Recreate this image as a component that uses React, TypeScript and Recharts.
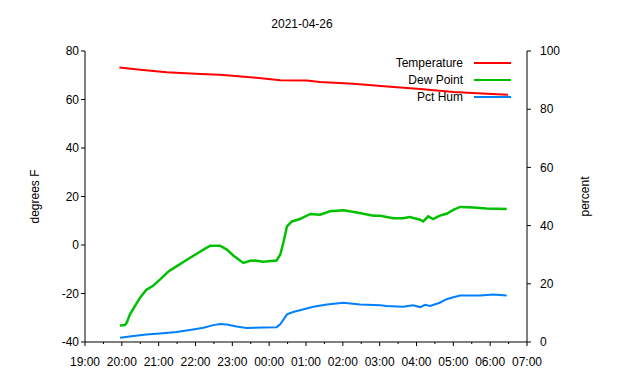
import React from "react"
import { LineChart, Line, XAxis, YAxis, Legend } from "recharts"

// times are clock readings, the night runs past midnight
const tempTimes = ["19:56", "20:30", "21:13", "22:08", "22:40", "23:34", "00:18", "01:01", "01:23", "02:17", "03:12", "04:06", "05:00", "05:55", "06:29"]
const tempValues = [73.2, 72.3, 71.2, 70.5, 70.2, 69.1, 67.9, 67.8, 67.2, 66.5, 65.4, 64.3, 63.1, 62.4, 62.0]

const dewTimes = ["19:57", "20:05", "20:08", "20:13", "20:21", "20:30", "20:40", "20:51", "21:02", "21:16", "21:29", "21:46", "22:02", "22:15", "22:24", "22:40", "22:51", "23:02", "23:18", "23:29", "23:37", "23:50", "00:12", "00:18", "00:23", "00:29", "00:37", "00:50", "01:07", "01:23", "01:39", "02:01", "02:23", "02:50", "03:01", "03:22", "03:38", "03:49", "04:06", "04:11", "04:19", "04:27", "04:38", "04:49", "05:00", "05:11", "05:33", "05:54", "06:27"]
const dewValues = [-33.2, -33.0, -32.0, -28.7, -25.3, -21.6, -18.4, -16.8, -14.3, -10.9, -8.8, -6.1, -3.6, -1.6, -0.3, -0.3, -1.9, -4.4, -7.4, -6.5, -6.4, -6.9, -6.4, -4.0, 0.8, 7.7, 9.7, 10.7, 12.8, 12.5, 13.9, 14.3, 13.4, 12.1, 12.1, 11.0, 11.0, 11.5, 10.4, 9.7, 11.8, 10.7, 12.1, 12.9, 14.5, 15.7, 15.5, 15.1, 14.8]

const humTimes = ["19:57", "20:19", "20:40", "21:07", "21:29", "21:51", "22:13", "22:29", "22:40", "22:51", "23:07", "23:23", "23:50", "00:12", "00:18", "00:29", "00:39", "00:50", "01:12", "01:34", "02:01", "02:28", "03:01", "03:11", "03:38", "03:54", "04:06", "04:14", "04:22", "04:38", "04:49", "05:00", "05:11", "05:44", "06:05", "06:27"]
const humValues = [1.5, 2.1, 2.6, 3.0, 3.4, 4.1, 4.9, 5.8, 6.2, 6.0, 5.3, 4.8, 5.0, 5.1, 6.1, 9.5, 10.3, 10.9, 12.1, 12.9, 13.5, 12.9, 12.6, 12.4, 12.1, 12.6, 12.0, 12.8, 12.4, 13.5, 14.7, 15.4, 16.0, 16.0, 16.3, 16.0]

const seriesNames = ["Temperature", "Dew Point", "Pct Hum"]
const hourTicks = [19, 19.5, 20, 20.5, 21, 21.5, 22, 22.5, 23, 23.5, 24, 24.5, 25, 25.5, 26, 26.5, 27, 27.5, 28, 28.5, 29, 29.5, 30, 30.5, 31]
const leftTicks = [-40, -20, 0, 20, 40, 60, 80]
const rightTicks = [0, 20, 40, 60, 80, 100]

const toHour = (s: string) => {
  const [h, m] = s.split(":").map(Number)
  return (h < 19 ? h + 24 : h) + m / 60
}
const build = (times: string[], vals: number[]) => times.map((t, i) => ({ t: toHour(t), v: vals[i] }))

const tempData = build(tempTimes, tempValues)
const dewData = build(dewTimes, dewValues)
const humData = build(humTimes, humValues)

const font = "'Liberation Sans', Arial, sans-serif"

const TimeTick = (props: any) => {
  const { x, y, payload } = props
  const major = Number.isInteger(payload.value)
  const h = payload.value % 24
  return (
    <g>
      <line x1={x} x2={x} y1={y} y2={y + (major ? 4 : 2)} stroke="#000" />
      {major && (
        <text x={x} y={y + 15} dy="0.71em" textAnchor="middle" fontSize={12} fill="#000" fontFamily={font}>
          {String(h).padStart(2, "0") + ":00"}
        </text>
      )}
    </g>
  )
}

const LegendBox = (props: any) => {
  const payload = [...(props.payload || [])].sort(
    (a: any, b: any) => seriesNames.indexOf(a.value) - seriesNames.indexOf(b.value)
  )
  return (
    <div style={{ fontFamily: font, fontSize: 12 }}>
      {payload.map((p: any) => (
        <div key={p.value} style={{ display: "flex", alignItems: "center", height: 16.7 }}>
          <span style={{ width: 463, textAlign: "right" }}>{p.value}</span>
          <span style={{ width: 37, height: 2, marginLeft: 11, background: p.color }} />
        </div>
      ))}
    </div>
  )
}

export default function App() {
  return (
    <div style={{ position: "absolute", left: 0, top: 0, width: 640, height: 380, background: "#fff", fontFamily: font }}>
      <div style={{ position: "absolute", top: 17, left: 0, width: 604, textAlign: "center", fontSize: 12 }}>2021-04-26</div>
      <LineChart width={640} height={380} margin={{ top: 51, left: 15, right: 43, bottom: 8 }}>
        <XAxis
          dataKey="t"
          type="number"
          domain={[19, 31]}
          ticks={hourTicks}
          interval={0}
          tick={<TimeTick />}
          tickLine={false}
          tickSize={0}
          tickMargin={0}
          height={30}
          axisLine={{ stroke: "#000" }}
        />
        <XAxis xAxisId="top" orientation="top" type="number" domain={[19, 31]} tick={false} tickLine={false} height={0} axisLine={{ stroke: "#000" }} />
        <YAxis
          yAxisId="left"
          domain={[-40, 80]}
          ticks={leftTicks}
          width={70}
          tickSize={4}
          tickMargin={2}
          tick={{ fill: "#000", fontSize: 12 }}
          tickLine={{ stroke: "#000" }}
          axisLine={{ stroke: "#000" }}
          label={{ value: "degrees F", angle: -90, position: "insideLeft", offset: 20, style: { fontSize: 12, fill: "#000", textAnchor: "middle" } }}
        />
        <YAxis
          yAxisId="right"
          orientation="right"
          domain={[0, 100]}
          ticks={rightTicks}
          width={70}
          tickSize={4}
          tickMargin={9}
          tick={{ fill: "#000", fontSize: 12 }}
          tickLine={{ stroke: "#000" }}
          axisLine={{ stroke: "#000" }}
          label={{ value: "percent", angle: -90, position: "insideRight", offset: 12, style: { fontSize: 12, fill: "#000", textAnchor: "middle" } }}
        />
        <Legend
          layout="horizontal"
          verticalAlign="middle"
          align="center"
          itemSorter={null}
          content={<LegendBox />}
          wrapperStyle={{ top: 55, left: 0, width: 640 }}
        />
        <Line yAxisId="left" type="linear" data={tempData} dataKey="v" name="Temperature" stroke="#ff0000" strokeWidth={2} dot={false} isAnimationActive={false} />
        <Line yAxisId="left" type="linear" data={dewData} dataKey="v" name="Dew Point" stroke="#00c000" strokeWidth={2.5} dot={false} isAnimationActive={false} />
        <Line yAxisId="right" type="linear" data={humData} dataKey="v" name="Pct Hum" stroke="#0080ff" strokeWidth={2} dot={false} isAnimationActive={false} />
      </LineChart>
    </div>
  )
}
